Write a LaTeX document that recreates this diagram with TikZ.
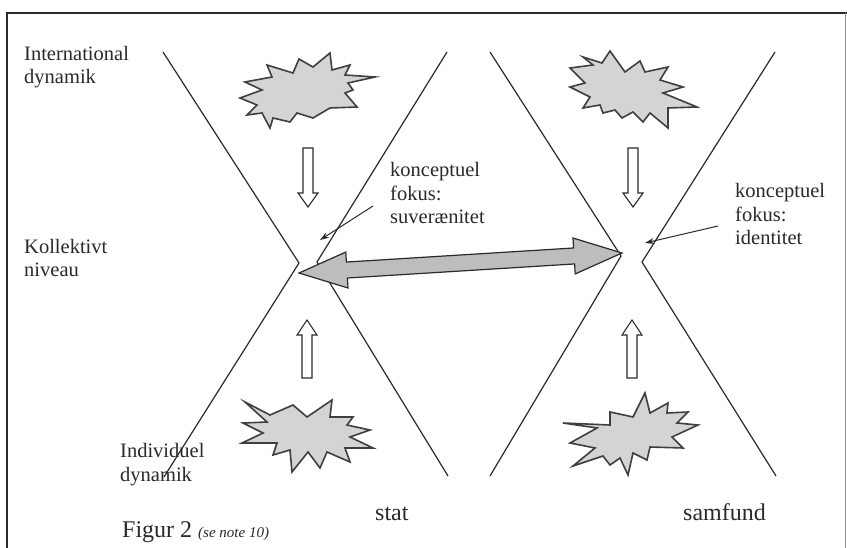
\documentclass[tikz,border=0pt]{standalone}
\usepackage{fontspec}
\setmainfont{Liberation Serif}
\usetikzlibrary{calc,arrows.meta}
\definecolor{starfill}{HTML}{D4D4D4}
\definecolor{arrfill}{HTML}{BDBDBD}
\definecolor{ink}{HTML}{2A2A2A}
\tikzset{
 xline/.style={draw=ink, line width=1.2pt},
 starshape/.style={draw=ink!90, fill=starfill, line width=1.6pt, line join=miter},
 hollow/.style={draw=ink, fill=white, line width=1.1pt},
 dbl/.style={draw=ink, fill=arrfill, line width=1.2pt, line join=miter},
 lab/.style={font=\fontsize{20.5}{23.5}\selectfont, align=left, inner sep=0pt, anchor=base west, text=ink},
 big/.style={font=\fontsize{24}{28}\selectfont, inner sep=0pt, anchor=base west, text=ink},
 pointer/.style={draw=ink, line width=1pt, -{Stealth[length=9pt,width=6pt]}},
 frameline/.style={draw=ink, line width=1.5pt}
}
\begin{document}
\begin{tikzpicture}[x=1pt,y=-1pt]
\useasboundingbox (0,0) rectangle (847,548);
\fill[white] (0,0) rectangle (847,548);

% stars
\draw[starshape] (240,98) -- (262,90) -- (245,82) -- (272,77) -- (267,65) -- (293,73) -- (299,59) -- (313,67) -- (330,53) -- (332,70) -- (350,65) -- (345,75) -- (375,77) -- (348,83) -- (353,90) -- (345,93) -- (357,107) -- (330,108) -- (313,118) -- (297,113) -- (290,122) -- (273,118) -- (270,128) -- (262,113) -- (247,115) -- (257,105) -- cycle;
\draw[starshape] (570,87) -- (585,83) -- (570,68) -- (593,65) -- (583,57) -- (602,63) -- (610,51) -- (625,72) -- (640,61) -- (645,72) -- (668,67) -- (660,80) -- (683,87) -- (663,93) -- (697,107) -- (668,108) -- (668,128) -- (650,113) -- (643,122) -- (633,112) -- (622,118) -- (615,110) -- (603,113) -- (600,105) -- (583,108) -- (590,97) -- cycle;
\draw[starshape] (245,402) -- (270,415) -- (293,405) -- (307,417) -- (332,400) -- (330,417) -- (353,417) -- (347,425) -- (370,430) -- (350,437) -- (373,448) -- (345,448) -- (350,462) -- (327,452) -- (320,468) -- (308,452) -- (292,472) -- (290,450) -- (273,455) -- (277,443) -- (242,443) -- (263,433) -- (243,423) -- (267,422) -- cycle;
\draw[starshape] (563,423) -- (597,428) -- (570,443) -- (595,448) -- (573,466) -- (603,456) -- (610,465) -- (620,458) -- (628,475) -- (633,453) -- (647,460) -- (650,447) -- (683,448) -- (672,437) -- (698,425) -- (677,423) -- (688,412) -- (667,413) -- (668,403) -- (650,413) -- (645,393) -- (633,417) -- (610,412) -- (610,425) -- cycle;

% X lines
\draw[xline] (163,52) -- (299,263) -- (164,477);
\draw[xline] (447,52) -- (317,262) -- (448,476);
\draw[xline] (490,52) -- (621,256) -- (490,476);
\draw[xline] (775,52) -- (642,262) -- (776,476);

% hollow arrows
\draw[hollow] (303,148) -- (313,148) -- (313,193) -- (318,193) -- (308,207) -- (298,193) -- (303,193) -- cycle;
\draw[hollow] (628,148) -- (638,148) -- (638,193) -- (643,193) -- (633,207) -- (623,193) -- (628,193) -- cycle;
\draw[hollow] (302,378) -- (312,378) -- (312,335) -- (317,335) -- (307,320) -- (297,335) -- (302,335) -- cycle;
\draw[hollow] (627,378) -- (637,378) -- (637,335) -- (642,335) -- (632,320) -- (622,335) -- (627,335) -- cycle;

% double arrow
\coordinate (dl) at (299,273);
\coordinate (dr) at (622,253);
\path ($(dl)!48pt!(dr)$) coordinate (hl) ($(dr)!48pt!(dl)$) coordinate (hr);
\draw[dbl] (dl) -- ($(hl)!18pt!90:(dr)$) -- ($(hl)!8pt!90:(dr)$) -- ($(hr)!8pt!-90:(dl)$) -- ($(hr)!18pt!-90:(dl)$) -- (dr) -- ($(hr)!18pt!90:(dl)$) -- ($(hr)!8pt!90:(dl)$) -- ($(hl)!8pt!-90:(dr)$) -- ($(hl)!18pt!-90:(dr)$) -- cycle;

% labels (anchor = baseline of last line)
\node[lab] (intl) at (24,84) {International\\dynamik};
\node[lab] (koll) at (24,277) {Kollektivt\\niveau};
\node[lab] (indiv) at (120,481) {Individuel\\dynamik};
\node[lab] (suv) at (390,224) {konceptuel\\fokus:\\suverænitet};
\node[lab] (ident) at (735,245) {konceptuel\\fokus:\\identitet};
\node[big] (stat) at (375,520) {stat};
\node[big] (samf) at (683,520) {samfund};
\node[big] (fig) at (122,537) {Figur 2 {\fontsize{15}{18}\selectfont\itshape (se note 10)}};

% pointers
\coordinate (s0) at (373,206);
\coordinate (s1) at (320,240);
\coordinate (i0) at (718,226);
\coordinate (i1) at (645,243);
\draw[pointer] (s0) -- (s1);
\draw[pointer] (i0) -- (i1);

% frame
\draw[frameline] (7,548) -- (7,13) -- (847,13);
\draw[ink!50, line width=1pt] (845,13) -- (845,548);
\end{tikzpicture}
\end{document}
